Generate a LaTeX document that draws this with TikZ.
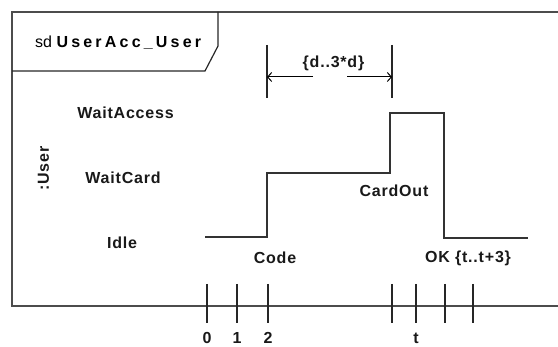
\documentclass[tikz,border=0pt]{standalone}
\usepackage{fontspec}
\setmainfont{Liberation Sans}
\usetikzlibrary{arrows.meta}

\begin{document}
\begin{tikzpicture}[x=1pt, y=-1pt,
  lbl/.style={inner sep=0pt, black!90,
    font=\fontsize{16}{18}\selectfont\bfseries\addfontfeature{LetterSpace=5}},
  sinal/.style={line width=1.6pt, black!80},
  tick/.style={line width=1.2pt, black!85},
  seta/.style={line width=1pt, -{Straight Barb[length=4pt, width=9pt]}}]
  \useasboundingbox (0,0) rectangle (558,347);
  % moldura
  \draw[line width=1.6pt, black!70] (558,12) -- (12,12) -- (12,306) -- (558,306);
  \draw[line width=1.2pt, black!85] (12,71) -- (205,71) -- (218,46) -- (218,12);
  \node[anchor=west, inner sep=0pt, font=\fontsize{16}{18}\selectfont] (titulo) at (35,43)
    {sd {\bfseries\addfontfeature{LetterSpace=20}UserAcc\_User}};
  % linha de vida e estados
  \node[lbl, rotate=90] (vida) at (43.5,168.5) {:User};
  \node[lbl] (waitaccess) at (125.5,113) {WaitAccess};
  \node[lbl] (waitcard) at (123,178) {WaitCard};
  \node[lbl] (idle) at (122,243) {Idle};
  % o sinal
  \coordinate (inicio) at (205,237);
  \coordinate (code) at (267,173);
  \coordinate (cardout) at (390,113);
  \coordinate (ok) at (444,238);
  \coordinate (fim) at (528,238);
  \draw[sinal] (inicio) -| (code) -| (cardout) -| (ok) -- (fim);
  \node[lbl] (lcode) at (275,258) {Code};
  \node[lbl] (lcardout) at (394,191) {CardOut};
  \node[lbl] (lok) at (468,258) {OK \{t..t+3\}};
  % restricao de duracao
  \coordinate (desq) at (267,45);
  \coordinate (ddir) at (392,45);
  \draw[tick] (desq) -- ++(0,53);
  \draw[tick] (ddir) -- ++(0,53);
  \node[lbl] (dur) at (333.5,63) {\{d..3*d\}};
  \coordinate (sesq) at (313,77);
  \coordinate (sdir) at (347,77);
  \draw[seta] (sesq) -- (sesq -| desq);
  \draw[seta] (sdir) -- (sdir -| ddir);
  % eixo do tempo
  \foreach \xp/\xn in {207/a, 237/b, 268/c, 392/d, 416/e, 445/f, 473/g}
  {
    \coordinate (tk\xn) at (\xp,306);
    \draw[tick] ([yshift=22pt]tk\xn) -- ([yshift=-17pt]tk\xn);
  }
  \foreach \xp/\xn/\xlab in {207/a/0, 237/b/1, 268/c/2, 416/e/t}
    \node[lbl] (lab\xn) at (\xp,338) {\xlab};
\end{tikzpicture}
\end{document}
